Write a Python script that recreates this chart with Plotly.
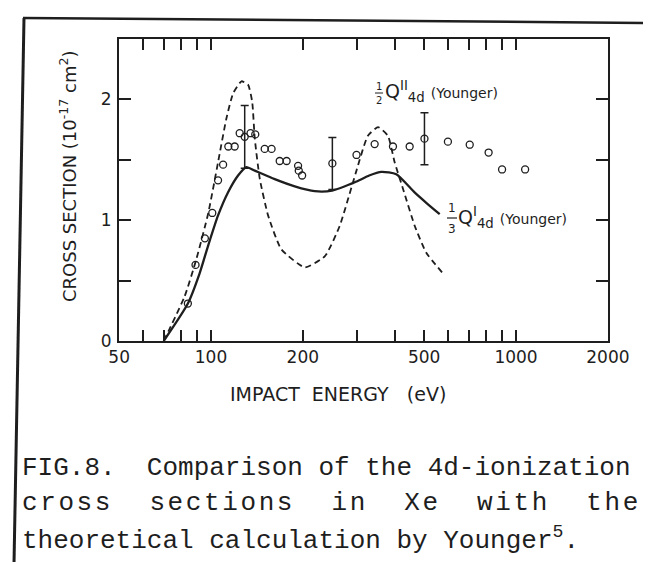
import math
import plotly.graph_objects as go

# ---------------- data ----------------
energy_exp = [84, 89, 95.5, 101, 105.5, 109.6, 114, 119.6, 124.2, 134.8, 139.7,
              150, 158, 168, 177, 193, 194, 199,
              300, 344, 395, 448, 598, 705, 813, 900, 1071]
sigma_exp = [0.31, 0.63, 0.85, 1.06, 1.33, 1.46, 1.61, 1.61, 1.72, 1.72, 1.71,
             1.59, 1.59, 1.49, 1.49, 1.45, 1.41, 1.37,
             1.54, 1.63, 1.61, 1.61, 1.65, 1.625, 1.56, 1.42, 1.42]

energy_err = [129, 250, 501]
sigma_err = [1.69, 1.47, 1.675]
sigma_err_size = [0.26, 0.215, 0.215]

energy_QI = [70, 84, 91.8, 97.9, 105.5, 113.7, 122.7, 130.6, 139.2, 161.8, 188.2,
             218.8, 249.5, 300, 330, 362, 405, 465, 510, 562]
sigma_QI = [0.0, 0.31, 0.56, 0.79, 1.04, 1.23, 1.37, 1.44, 1.41, 1.34, 1.28,
            1.24, 1.245, 1.32, 1.37, 1.40, 1.38, 1.23, 1.14, 1.05]

energy_QII = [70, 82, 89.5, 98, 105.5, 112.3, 118.2, 125.9, 132.4, 136.5, 139.2,
              144.6, 153.9, 170, 203, 236, 264, 299, 327, 353, 380, 400, 426,
              466, 508, 576]
sigma_QII = [0.0, 0.37, 0.675, 1.06, 1.48, 1.84, 2.05, 2.15, 2.12, 1.98, 1.675,
             1.34, 1.04, 0.76, 0.61, 0.70, 0.95, 1.40, 1.70, 1.77, 1.70, 1.48, 1.26,
             0.95, 0.73, 0.56]

x_tickvals = [50, 100, 200, 500, 1000, 2000]
x_ticktext = ["50", "100", "200", "500", "1000", "2000"]
x_minor_tickvals = [60, 70, 80, 90, 300, 400, 600, 700, 800, 900]
y_tickvals = [0, 1, 2]
y_ticktext = ["0", "1", "2"]
y_minor_tickvals = [0.5, 1.5]

# ---------------- layout geometry ----------------
W, H = 651, 562
L, R, T, B = 111, 600, 31, 333
INK = "#1e1e1e"


def px(x):
    return (x - L) / (R - L)


def py(y):
    return (B - y) / (B - T)


fig = go.Figure()

fig.add_trace(go.Scatter(
    x=energy_QI, y=sigma_QI, mode="lines",
    line=dict(color=INK, width=2.3, shape="spline", smoothing=0.6),
    hoverinfo="skip"))

fig.add_trace(go.Scatter(
    x=energy_QII, y=sigma_QII, mode="lines",
    line=dict(color=INK, width=1.8, dash="6px,4px", shape="spline", smoothing=0.5),
    hoverinfo="skip"))

fig.add_trace(go.Scatter(
    x=energy_exp, y=sigma_exp, mode="markers",
    marker=dict(symbol="circle-open", size=7, color=INK, line=dict(width=1.3, color=INK))))

fig.add_trace(go.Scatter(
    x=energy_err, y=sigma_err, mode="markers",
    marker=dict(symbol="circle-open", size=7, color=INK, line=dict(width=1.3, color=INK)),
    error_y=dict(type="data", array=sigma_err_size, visible=True,
                 thickness=1.5, width=4, color=INK)))

annotations = []


def ann(text, x, y, size, xanchor="left", yanchor="middle", family="DejaVu Sans",
        angle=0):
    annotations.append(dict(
        text=text, x=px(x), y=py(y), xref="paper", yref="paper",
        xanchor=xanchor, yanchor=yanchor, showarrow=False, textangle=angle,
        font=dict(size=size, family=family, color=INK)))


# axis titles
ann("CROSS SECTION (10<sup>-17</sup> cm<sup>2</sup>)", 60, 168, 18,
    xanchor="center", angle=-90)
ann("IMPACT\u00a0\u00a0ENERGY\u00a0\u00a0\u00a0(eV)", 330, 386, 19, xanchor="center")

# curve labels
ann("1", 371, 78, 10, xanchor="center")
ann("2", 371, 92, 10, xanchor="center")
ann('Q<sup>II</sup><sub>4d</sub>\u00a0<span style="font-size:14px">(Younger)</span>',
    375, 83, 19)

ann("1", 444, 200, 12, xanchor="center")
ann("3", 444, 221, 12, xanchor="center")
ann('Q<sup>I</sup><sub>4d</sub>\u00a0<span style="font-size:14px">(Younger)</span>',
    448, 209, 19)

# caption
MONO = "Liberation Mono"
ann("FIG.8.\u00a0\u00a0Comparison of the 4d-ionization", 12, 460, 26, family=MONO)
ann('<span style="letter-spacing:2.6px">cross\u00a0\u00a0sections\u00a0\u00a0in\u00a0\u00a0Xe'
    '\u00a0\u00a0with\u00a0\u00a0the</span>', 12, 495, 26, family=MONO)
ann("theoretical calculation by Younger<sup>5</sup>.", 12, 531, 26, family=MONO)

shapes = []


def seg(x0, y0, x1, y1, w):
    shapes.append(dict(type="line", xref="paper", yref="paper",
                       x0=px(x0), y0=py(y0), x1=px(x1), y1=py(y1),
                       line=dict(color=INK, width=w)))


# fraction bars
seg(367, 85, 375, 85, 1)
seg(439, 210, 449, 210, 1.2)
# scanned page border
seg(15, 10, 648, 15, 2.5)
seg(16, 10, 6, 556, 3)
seg(6, 558, 400, 558, 3)

axis_common = dict(ticks="inside", tickwidth=1.8, tickcolor=INK,
                   showline=True, linewidth=2, linecolor=INK, mirror="allticks",
                   showgrid=False, zeroline=False,
                   tickfont=dict(size=17, color=INK))

fig.update_layout(
    width=W, height=H,
    margin=dict(l=L, r=W - R, t=T, b=H - B, pad=0),
    paper_bgcolor="white", plot_bgcolor="white",
    showlegend=False,
    font=dict(family="DejaVu Sans", color=INK, size=17),
    annotations=annotations, shapes=shapes,
    xaxis=dict(type="log", range=[math.log10(49.95), math.log10(2002)],
               tickmode="array", tickvals=x_tickvals, ticktext=x_ticktext,
               ticklen=11, ticklabelstandoff=0,
               minor=dict(tickmode="array", tickvals=x_minor_tickvals,
                          ticks="inside", ticklen=11, tickwidth=1.8,
                          tickcolor=INK, showgrid=False),
               **axis_common),
    yaxis=dict(range=[0, 2.5], tickmode="array", tickvals=y_tickvals,
               ticktext=y_ticktext, ticklen=12, ticklabelstandoff=2,
               minor=dict(tickmode="array", tickvals=y_minor_tickvals,
                          ticks="inside", ticklen=12, tickwidth=1.8,
                          tickcolor=INK, showgrid=False),
               **axis_common),
)

fig.write_html("out.html")
